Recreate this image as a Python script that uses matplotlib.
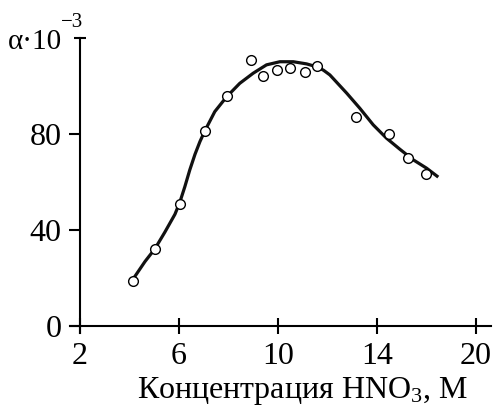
import matplotlib
matplotlib.use('Agg')
import matplotlib.pyplot as plt

# experimental points (concentration, alpha*1e-3)
conc = [4.13, 5.03, 6.04, 7.05, 7.93, 8.9, 9.41, 9.97, 10.5, 11.09, 11.6, 13.14, 14.47, 15.27, 15.99]
alpha = [18.7, 32.0, 50.8, 81.2, 95.8, 110.8, 104.2, 106.7, 107.4, 105.7, 108.3, 86.9, 80.1, 69.9, 63.2]

# smooth curve
curve_x = [4.13, 4.63, 5.03, 5.43, 5.84, 6.04, 6.24, 6.44, 6.65, 6.85, 7.05, 7.45, 7.93, 8.46, 9.00,
           9.54, 10.08, 10.62, 11.16, 11.63, 11.85, 12.10, 12.78, 13.31, 13.85, 14.39, 14.93, 15.47, 16.01, 16.48]
curve_y = [19.2, 26.8, 32.1, 39.0, 46.5, 51.6, 58.0, 65.0, 71.5, 76.8, 81.3, 89.3, 95.5, 101.1, 105.3,
           108.8, 110.1, 110.1, 109.2, 107.8, 106.5, 104.6, 97.0, 90.7, 83.8, 78.2, 73.6, 69.2, 65.7, 62.0]

xticks = [2, 6, 10, 14, 18]
xlabels = ['2', '6', '10', '14', '20']
yticks = [0, 40, 80]

plt.rcParams['font.family'] = ['Liberation Serif', 'DejaVu Serif']
plt.rcParams['mathtext.fontset'] = 'custom'
plt.rcParams['mathtext.rm'] = 'Liberation Serif'
plt.rcParams['mathtext.it'] = 'Liberation Serif:italic'

fig = plt.figure(figsize=(4.94, 4.08), dpi=100)
ax = fig.add_axes([0.1417, 0.1838, 0.8517, 0.7231])

ax.plot(curve_x, curve_y, color='#111111', lw=2.3, solid_joinstyle='round', solid_capstyle='butt')
ax.plot(conc, alpha, 'o', ms=7, mfc='white', mec='black', mew=1.0)

ax.set_xlim(1.6, 18.6)
ax.set_ylim(-3, 120)
ax.spines['top'].set_visible(False)
ax.spines['right'].set_visible(False)
ax.spines['left'].set_position(('data', 2))
ax.spines['bottom'].set_position(('data', 0))
for s in ('left', 'bottom'):
    ax.spines[s].set_linewidth(1.5)

ax.set_xticks(xticks)
ax.set_xticklabels(xlabels)
ax.set_yticks(yticks)
ax.set_yticks([120], minor=True)
ax.tick_params(axis='x', direction='inout', length=11, width=1.5, labelsize=23, pad=6)
ax.tick_params(axis='y', direction='out', length=8, width=1.5, labelsize=23, pad=5)
ax.tick_params(axis='y', which='minor', direction='inout', length=8, width=1.5)

fig.text(303 / 494, 1 - 398 / 408, 'Концентрация HNO$_3$, M', fontsize=23, ha='center', va='baseline')

fig.text(62 / 494, 1 - 49 / 408, 'α·10', fontsize=21, ha='right', va='baseline')
fig.text(61 / 494, 1 - 27 / 408, '−3', fontsize=15, ha='left', va='baseline')

fig.savefig('out.png', dpi=100)
